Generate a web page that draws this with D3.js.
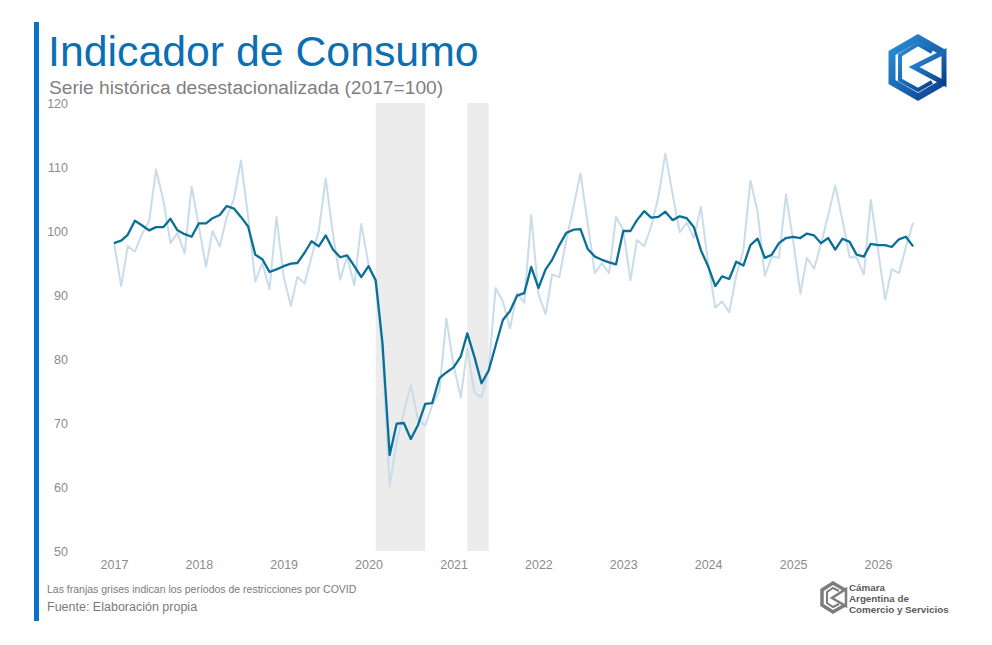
<!DOCTYPE html>
<html>
<head>
<meta charset="utf-8">
<script src="https://cdn.jsdelivr.net/npm/d3@7"></script>
<style>
  body { margin: 0; background: #fff; }
  svg { display: block; font-family: "Liberation Sans", Arial, sans-serif; }
</style>
</head>
<body>
<svg id="chart" width="992" height="645"></svg>
<script>
// monthly series, Jan 2017 .. Jun 2026
const startMonth = "2017-01";
const yearLabels = [2017, 2018, 2019, 2020, 2021, 2022, 2023, 2024, 2025, 2026];
const yTicks = [50, 60, 70, 80, 90, 100, 110, 120];

// serie original (light)
const original = [
  98.2, 91.4, 97.6, 96.8, 99.5, 101.5, 109.6, 104.8, 98.1, 99.7, 96.5, 107.0,
  100.7, 94.4, 100.0, 97.6, 102.2, 105.0, 111.0, 102.2, 92.1, 95.0, 90.9, 102.2,
  92.9, 88.3, 92.8, 91.8, 96.0, 100.0, 108.2, 99.5, 92.4, 96.0, 91.5, 101.1,
  94.8, 91.9, 81.0, 60.1, 67.1, 71.7, 75.9, 70.5, 69.6, 72.8, 75.0, 86.3,
  79.0, 74.0, 81.6, 74.7, 74.0, 78.4, 91.1, 89.0, 84.8, 90.3, 88.8, 102.5,
  90.1, 87.0, 93.2, 92.8, 98.6, 103.8, 109.0, 101.2, 93.4, 95.0, 93.4, 102.2,
  100.2, 92.3, 98.6, 97.6, 100.7, 105.3, 112.1, 105.8, 99.8, 101.3, 98.9, 103.8,
  95.0, 88.0, 89.0, 87.3, 93.0, 97.0, 107.9, 103.0, 93.0, 96.0, 95.8, 105.7,
  98.5, 90.2, 95.8, 94.1, 98.0, 102.5, 107.1, 101.7, 95.9, 95.9, 93.2, 104.9,
  97.0, 89.3, 94.0, 93.4, 97.5, 101.3
];

// serie desestacionalizada (dark)
const adjusted = [
  98.1, 98.5, 99.4, 101.6, 100.9, 100.1, 100.6, 100.6, 101.9, 100.1, 99.5, 99.1,
  101.2, 101.2, 102.0, 102.5, 103.9, 103.5, 102.2, 100.7, 96.3, 95.6, 93.6, 94.0,
  94.5, 94.9, 95.0, 96.6, 98.4, 97.6, 99.3, 97.1, 95.9, 96.2, 94.5, 92.8,
  94.5, 92.3, 82.5, 65.0, 69.9, 70.0, 67.5, 69.7, 73.0, 73.1, 77.0, 77.9,
  78.7, 80.4, 84.0, 80.3, 76.2, 78.2, 82.1, 86.1, 87.5, 89.9, 90.3, 94.4,
  91.1, 94.0, 95.5, 97.8, 99.7, 100.2, 100.3, 97.2, 96.0, 95.5, 95.1, 94.8,
  100.0, 100.0, 101.7, 103.1, 102.1, 102.2, 103.0, 101.7, 102.3, 102.0, 100.6, 97.0,
  94.5, 91.4, 92.9, 92.5, 95.2, 94.6, 97.8, 98.8, 95.8, 96.3, 98.1, 98.9,
  99.1, 98.9, 99.6, 99.3, 98.1, 98.9, 97.1, 98.8, 98.3, 96.3, 96.0, 98.0,
  97.8, 97.8, 97.5, 98.7, 99.1, 97.6
];

// periodos de restricciones por COVID
const covidBands = [["2020-02", "2020-09"], ["2021-03", "2021-06"]];

const parseMonth = d3.timeParse("%Y-%m");
const start = parseMonth(startMonth);
const toPoints = values => values.map((v, i) => ({ date: d3.timeMonth.offset(start, i), value: v }));

const svg = d3.select('#chart');

const x = d3.scaleTime()
  .domain([new Date(yearLabels[0], 0, 1), new Date(yearLabels[yearLabels.length - 1], 0, 1)])
  .range([114, 878]);

const y = d3.scaleLinear()
  .domain([50, 120])
  .range([551, 103]);

// left accent bar
svg.append('rect')
  .attr('x', 34).attr('y', 22)
  .attr('width', 5).attr('height', 599)
  .attr('fill', '#0b72c9');

// titles
svg.append('text')
  .attr('x', 48).attr('y', 66)
  .attr('font-size', 42.8)
  .attr('fill', '#0b6fb3')
  .text('Indicador de Consumo');

svg.append('text')
  .attr('x', 49).attr('y', 94)
  .attr('font-size', 19.2)
  .attr('fill', '#808080')
  .text('Serie histórica desestacionalizada (2017=100)');

// covid bands
svg.append('g')
  .selectAll('rect')
  .data(covidBands)
  .enter()
  .append('rect')
  .attr('x', d => x(parseMonth(d[0])))
  .attr('width', d => x(parseMonth(d[1])) - x(parseMonth(d[0])))
  .attr('y', y(120))
  .attr('height', y(50) - y(120))
  .attr('fill', '#ececec');

// axes
const yAxis = svg.append('g')
  .attr('transform', 'translate(68, 0)')
  .call(d3.axisLeft(y).tickValues(yTicks).tickSize(0).tickPadding(0));

const xAxis = svg.append('g')
  .attr('transform', 'translate(0, 552)')
  .call(d3.axisBottom(x)
    .tickValues(yearLabels.map(yr => new Date(yr, 0, 1)))
    .tickFormat(d3.timeFormat('%Y'))
    .tickSize(0)
    .tickPadding(8));

[yAxis, xAxis].forEach(g => {
  g.select('.domain').remove();
  g.selectAll('text')
    .attr('fill', '#8c8c8c')
    .attr('font-size', 12.5)
    .attr('font-family', '"Liberation Sans", Arial, sans-serif');
});

// lines
const line = d3.line()
  .x(d => x(d.date))
  .y(d => y(d.value));

svg.append('path')
  .datum(toPoints(original))
  .attr('fill', 'none')
  .attr('stroke', '#c9dcea')
  .attr('stroke-width', 2)
  .attr('stroke-linejoin', 'round')
  .attr('d', line);

svg.append('path')
  .datum(toPoints(adjusted))
  .attr('fill', 'none')
  .attr('stroke', '#0a6f96')
  .attr('stroke-width', 2.3)
  .attr('stroke-linejoin', 'round')
  .attr('d', line);

// footnotes
svg.append('text')
  .attr('x', 47).attr('y', 593)
  .attr('font-size', 10.5)
  .attr('fill', '#7a7a7a')
  .text('Las franjas grises indican los períodos de restricciones por COVID');

svg.append('text')
  .attr('x', 47).attr('y', 611)
  .attr('font-size', 12.5)
  .attr('fill', '#7a7a7a')
  .text('Fuente: Elaboración propia');

// top-right logo
const defs = svg.append('defs');
const grad = defs.append('linearGradient')
  .attr('id', 'logoGrad')
  .attr('x1', '0%').attr('y1', '0%').attr('x2', '100%').attr('y2', '100%');
grad.append('stop').attr('offset', '0%').attr('stop-color', '#2a8fd8');
grad.append('stop').attr('offset', '100%').attr('stop-color', '#0b3f8e');

const logo = svg.append('g')
  .attr('fill', 'none')
  .attr('stroke', 'url(#logoGrad)')
  .attr('stroke-linejoin', 'miter');

logo.append('path')
  .attr('stroke-width', 7)
  .attr('d', 'M944,53 L918,38 L892,53 L892,82 L918,97 L944,82');
logo.append('path')
  .attr('stroke-width', 4)
  .attr('d', 'M932,52 L918,44 L900,55 L900,80 L918,90 L932,82');
logo.append('path')
  .attr('stroke-width', 5)
  .attr('d', 'M944,52 L944,83 L914,67 Z');

// bottom-right logo
const small = svg.append('g')
  .attr('fill', 'none')
  .attr('stroke', '#7d7d7d')
  .attr('stroke-linejoin', 'miter');
small.append('path')
  .attr('stroke-width', 3.5)
  .attr('d', 'M845,590 L833,583 L822,590 L822,605 L833,612 L845,605');
small.append('path')
  .attr('stroke-width', 2)
  .attr('d', 'M839,591 L833,588 L827,592 L827,603 L833,607 L839,604');
small.append('path')
  .attr('stroke-width', 2.5)
  .attr('d', 'M846,589 L846,606 L832,598 Z');

const orgLines = ['Cámara', 'Argentina de', 'Comercio y Servicios'];
svg.append('g')
  .selectAll('text')
  .data(orgLines)
  .enter()
  .append('text')
  .attr('x', 849)
  .attr('y', (d, i) => 591 + i * 11)
  .attr('font-size', 9.8)
  .attr('font-weight', 'bold')
  .attr('fill', '#5a5a5a')
  .text(d => d);
</script>
</body>
</html>
